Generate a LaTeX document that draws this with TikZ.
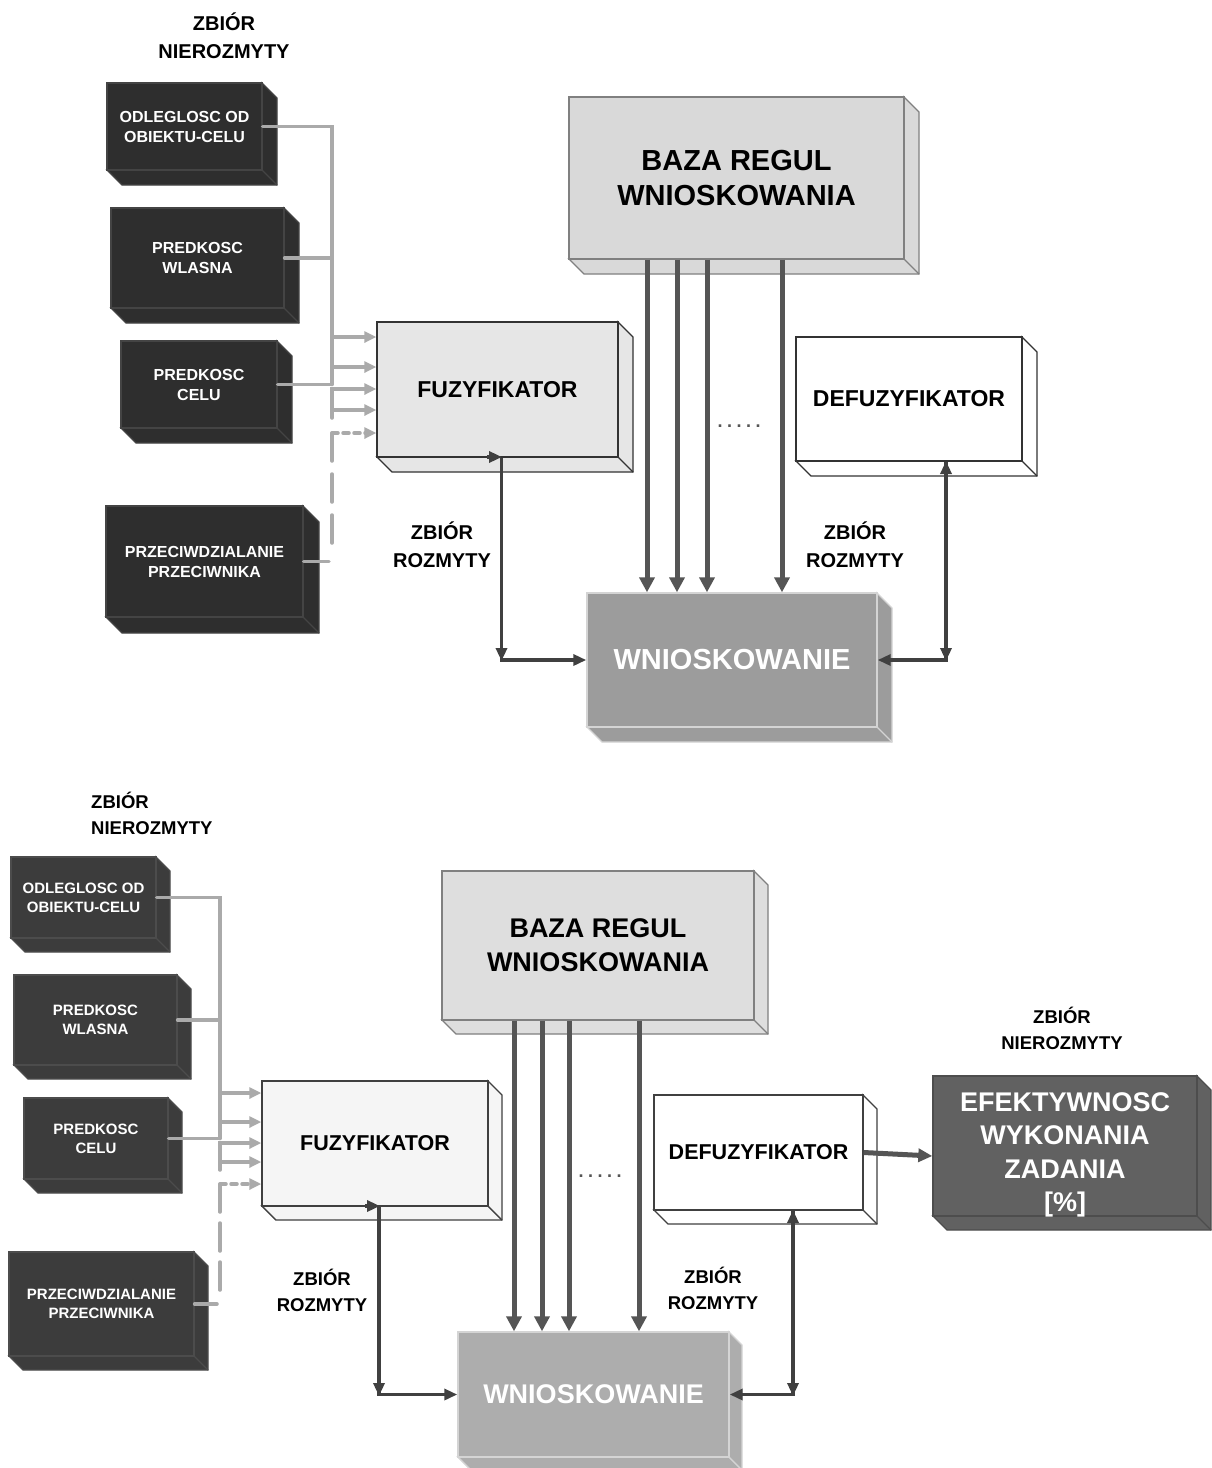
\documentclass[tikz,border=0pt]{standalone}
\usepackage{fontspec}
\setmainfont{Liberation Sans}
\usetikzlibrary{arrows.meta}

\definecolor{inAfill}{HTML}{2E2E2E}
\definecolor{inAedge}{HTML}{444444}
\definecolor{inBfill}{HTML}{3C3C3C}
\definecolor{inBedge}{HTML}{4C4C4C}
\definecolor{fuzAfill}{HTML}{E6E6E6}
\definecolor{fuzBfill}{HTML}{F5F5F5}
\definecolor{boxedge}{HTML}{333333}
\definecolor{bazaAfill}{HTML}{D9D9D9}
\definecolor{bazaBfill}{HTML}{DEDEDE}
\definecolor{bazaedge}{HTML}{808080}
\definecolor{wnAfill}{HTML}{9C9C9C}
\definecolor{wnBfill}{HTML}{ADADAD}
\definecolor{wnedge}{HTML}{D4D4D4}
\definecolor{effill}{HTML}{616161}
\definecolor{efedge}{HTML}{4D4D4D}
\definecolor{glinecol}{HTML}{AAAAAA}
\definecolor{darrowcol}{HTML}{555555}
\definecolor{klinecol}{HTML}{404040}

% 3D block: name, left, top, right, bottom, depth, style, text
\newcommand{\blockbox}[8]{%
  \filldraw[#7] (#4,#3) -- ({#4+#6},{#3+#6}) -- ({#4+#6},{#5+#6}) -- ({#2+#6},{#5+#6}) -- (#2,#5) -- (#4,#5) -- cycle;
  \draw[#7] (#4,#5) -- ({#4+#6},{#5+#6});
  \node[#7, draw, minimum width={(#4-#2)*1pt}, minimum height={(#5-#3)*1pt},
        inner sep=0pt, align=center] (#1) at ({(#2+#4)/2},{(#3+#5)/2}) {#8};
}

\tikzset{
  inboxA/.style={fill=inAfill, draw=inAedge, line width=1.2pt, text=white,
    font=\bfseries\fontsize{16}{20}\selectfont},
  inboxB/.style={fill=inBfill, draw=inBedge, line width=1.2pt, text=white,
    font=\bfseries\fontsize{15}{19}\selectfont},
  fuzA/.style={fill=fuzAfill, draw=boxedge, line width=1.4pt,
    font=\bfseries\fontsize{23}{27}\selectfont},
  fuzB/.style={fill=fuzBfill, draw=klinecol, line width=1.4pt,
    font=\bfseries\fontsize{21.5}{26}\selectfont},
  bazaA/.style={fill=bazaAfill, draw=bazaedge, line width=1.4pt,
    font=\bfseries\fontsize{29}{35}\selectfont},
  bazaB/.style={fill=bazaBfill, draw=bazaedge, line width=1.4pt,
    font=\bfseries\fontsize{27}{34}\selectfont},
  wnA/.style={fill=wnAfill, draw=wnedge, line width=1.4pt, text=white,
    font=\bfseries\fontsize{29}{34}\selectfont},
  wnB/.style={fill=wnBfill, draw=wnedge, line width=1.4pt, text=white,
    font=\bfseries\fontsize{27}{32}\selectfont},
  defA/.style={fill=white, draw=boxedge, line width=1.4pt,
    font=\bfseries\fontsize{23}{27}\selectfont},
  defB/.style={fill=white, draw=klinecol, line width=1.4pt,
    font=\bfseries\fontsize{21.5}{26}\selectfont},
  efbox/.style={fill=effill, draw=efedge, line width=1.4pt},
  eftext/.style={text=white, align=center, inner sep=0pt,
    font=\bfseries\fontsize{27}{33.5}\selectfont},
  gline/.style={draw=glinecol, line width=3.5pt, line cap=round},
  garrow/.style={gline, -{Triangle[length=12pt,width=11pt]}},
  gdots/.style={dash pattern=on 6pt off 5pt},
  gdashes/.style={dash pattern=on 28pt off 13pt},
  darrow/.style={draw=darrowcol, line width=5pt, -{Triangle[length=15pt,width=15pt]}},
  kline/.style={draw=klinecol, line width=3.5pt, -{Triangle[length=13pt,width=11pt]}},
  lblA/.style={align=center, inner sep=0pt, font=\bfseries\fontsize{20}{28}\selectfont},
  lblB/.style={align=center, inner sep=0pt, font=\bfseries\fontsize{18.5}{26}\selectfont},
  dotsnode/.style={text=darrowcol, inner sep=0pt, font=\bfseries\fontsize{18}{20}\selectfont},
}

\begin{document}
\begin{tikzpicture}[x=1pt, y=-1pt]
\useasboundingbox[fill=white] (0,0) rectangle (1212,1468);

% ================= upper scheme =================
\blockbox{inA1}{107}{83}{262}{170}{15}{inboxA}{ODLEGLOSC OD\\OBIEKTU-CELU}
\blockbox{inA2}{111}{208}{284}{308}{15}{inboxA}{PREDKOSC\\WLASNA}
\blockbox{inA3}{121}{341}{277}{428}{15}{inboxA}{PREDKOSC\\CELU}
\blockbox{inA4}{106}{506}{303}{617}{16}{inboxA}{PRZECIWDZIALANIE\\PRZECIWNIKA}
\blockbox{fuzAbox}{377}{322}{618}{457}{15}{fuzA}{FUZYFIKATOR}
\blockbox{bazaAbox}{569}{97}{904}{259}{15}{bazaA}{BAZA REGUL\\WNIOSKOWANIA}
\blockbox{wnAbox}{587}{593}{877}{727}{15}{wnA}{WNIOSKOWANIE}
\blockbox{defAbox}{796}{337}{1022}{461}{15}{defA}{DEFUZYFIKATOR}

\node[lblA] (nfA) at (224,36) {ZBIÓR\\NIEROZMYTY};
\node[lblA] (rzA1) at (442,545) {ZBIÓR\\ROZMYTY};
\node[lblA] (rzA2) at (855,545) {ZBIÓR\\ROZMYTY};
\node[dotsnode] (dotsA) at (739,426) {.\hspace{4.5pt}.\hspace{4.5pt}.\hspace{4.5pt}.\hspace{4.5pt}.};

% crisp inputs into the fuzzifier
\path (inA3.east -| 332,0) coordinate (busA);
\draw[gline] (inA1.east) -| (busA);
\draw[gline] (inA2.east) -- (inA2.east -| 332,0);
\draw[gline] (inA3.east) -- (busA);
\draw[garrow] (332,337) -- (fuzAbox.west |- 0,337);
\draw[garrow] (332,367) -- (fuzAbox.west |- 0,367);
\draw[garrow] (332,418) -- (332,389) -- (fuzAbox.west |- 0,389);
\draw[garrow] (332,410) -- (fuzAbox.west |- 0,410);
\draw[garrow, gdots] (332,433) -- (fuzAbox.west |- 0,433);
\draw[gline, gdashes] (332,433) -- (332,556);
\draw[gline] (inA4.east) -- (329,561.5);

% rule base into the inference block
\foreach \xx in {647,677,707,782}
  \draw[darrow] (bazaAbox.south -| \xx,0) -- (wnAbox.north -| \xx,0);

% fuzzy sets between blocks
\draw[kline] ([xshift=4pt]fuzAbox.south) |- (wnAbox.west);
\draw[kline] (487,457) -- (502,457);
\draw[kline] (501.5,644) -- (501.5,661);
\draw[kline] ([xshift=37pt]defAbox.south) |- (wnAbox.east);
\draw[kline] (946,476) -- (946,461);
\draw[kline] (946,644) -- (946,661);

% ================= lower scheme =================
\blockbox{inB1}{11}{857}{156}{938}{14}{inboxB}{ODLEGLOSC OD\\OBIEKTU-CELU}
\blockbox{inB2}{14}{975}{177}{1065}{14}{inboxB}{PREDKOSC\\WLASNA}
\blockbox{inB3}{24}{1098}{168}{1179}{14}{inboxB}{PREDKOSC\\CELU}
\blockbox{inB4}{9}{1252}{194}{1356}{14}{inboxB}{PRZECIWDZIALANIE\\PRZECIWNIKA}
\blockbox{fuzBbox}{262}{1081}{488}{1206}{14}{fuzB}{FUZYFIKATOR}
\blockbox{bazaBbox}{442}{871}{754}{1020}{14}{bazaB}{BAZA REGUL\\WNIOSKOWANIA}
\blockbox{wnBbox}{458}{1332}{729}{1457}{13}{wnB}{WNIOSKOWANIE}
\blockbox{defBbox}{654}{1095}{863}{1210}{14}{defB}{DEFUZYFIKATOR}
\blockbox{efBbox}{933}{1076}{1197}{1216}{14}{efbox}{}
\node[eftext] (efBtext) at (1065,1155) {EFEKTYWNOSC\\WYKONANIA\\ZADANIA\\{[\%]}};

\node[lblB, align=left, anchor=west] (nfB) at (91,813) {ZBIÓR\\NIEROZMYTY};
\node[lblB] (nfC) at (1062,1028) {ZBIÓR\\NIEROZMYTY};
\node[lblB] (rzB1) at (322,1290) {ZBIÓR\\ROZMYTY};
\node[lblB] (rzB2) at (713,1288) {ZBIÓR\\ROZMYTY};
\node[dotsnode] (dotsB) at (600,1176) {.\hspace{4.5pt}.\hspace{4.5pt}.\hspace{4.5pt}.\hspace{4.5pt}.};

\path (inB3.east -| 220,0) coordinate (busB);
\draw[gline] (inB1.east) -| (busB);
\draw[gline] (inB2.east) -- (inB2.east -| 220,0);
\draw[gline] (inB3.east) -- (busB);
\draw[garrow] (220,1093) -- (fuzBbox.west |- 0,1093);
\draw[garrow] (220,1122) -- (fuzBbox.west |- 0,1122);
\draw[garrow] (220,1170) -- (220,1143) -- (fuzBbox.west |- 0,1143);
\draw[garrow] (220,1162) -- (fuzBbox.west |- 0,1162);
\draw[garrow, gdots] (220,1184) -- (fuzBbox.west |- 0,1184);
\draw[gline, dash pattern=on 28pt off 11pt] (220,1184) -- (220,1295);
\draw[gline] (inB4.east) -- (217,1304);

\foreach \xx in {514,542,569,639}
  \draw[darrow] (bazaBbox.south -| \xx,0) -- (wnBbox.north -| \xx,0);

\draw[kline] ([xshift=4pt]fuzBbox.south) |- (wnBbox.west);
\draw[kline] (365,1206) -- (380,1206);
\draw[kline] (379,1380) -- (379,1396);
\draw[kline] ([xshift=34.5pt]defBbox.south) |- (wnBbox.east);
\draw[kline] (793,1225) -- (793,1210);
\draw[kline] (793,1380) -- (793,1396);

\draw[darrow, -{Triangle[length=14pt,width=13pt]}] (defBbox.east) -- (efBbox.west |- 0,1156);
\end{tikzpicture}
\end{document}
